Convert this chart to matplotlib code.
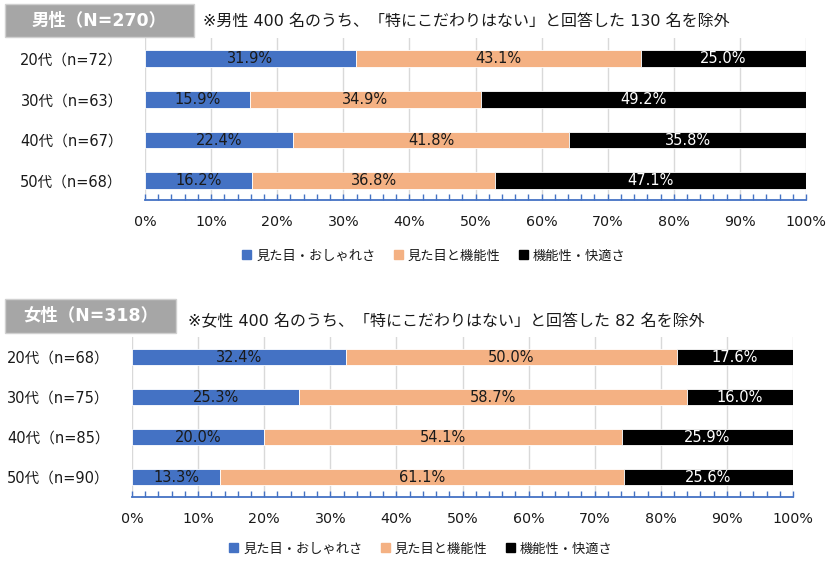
import matplotlib
matplotlib.use("Agg")
import matplotlib.pyplot as plt
from matplotlib.patches import Patch, Rectangle
from matplotlib.ticker import MultipleLocator, FuncFormatter

plt.rcParams['font.family'] = ['DejaVu Sans', 'Noto Sans CJK JP']

series_names = ["見た目・おしゃれさ", "見た目と機能性", "機能性・快適さ"]
colors = ["#4472C4", "#F4B183", "#000000"]
text_colors = ["#1a1a1a", "#1a1a1a", "#ffffff"]

male_categories = ["20代（n=72）", "30代（n=63）", "40代（n=67）", "50代（n=68）"]
male_look = [31.9, 15.9, 22.4, 16.2]
male_both = [43.1, 34.9, 41.8, 36.8]
male_func = [25.0, 49.2, 35.8, 47.1]

female_categories = ["20代（n=68）", "30代（n=75）", "40代（n=85）", "50代（n=90）"]
female_look = [32.4, 25.3, 20.0, 13.3]
female_both = [50.0, 58.7, 54.1, 61.1]
female_func = [17.6, 16.0, 25.9, 25.6]

male_header = "男性（N=270）"
male_note = "※男性 400 名のうち、「特にこだわりはない」と回答した 130 名を除外"
female_header = "女性（N=318）"
female_note = "※女性 400 名のうち、「特にこだわりはない」と回答した 82 名を除外"

W, H = 831, 562
fig = plt.figure(figsize=(W / 100, H / 100), dpi=100)
fig.patch.set_facecolor("white")


def px(x, y):
    return x / W, 1 - y / H


def draw_panel(left_px, top_px, bottom_px, cats, vals, ylim, header, hbox, note, note_xy, legend_xy):
    x0, y1 = px(left_px, top_px)
    _, y0 = px(left_px, bottom_px)
    ax = fig.add_axes([x0, y0, 661 / W, y1 - y0])
    ypos = list(range(len(cats)))
    lefts = [0.0] * len(cats)
    for si, sv in enumerate(vals):
        ax.barh(ypos, sv, left=lefts, height=0.41, color=colors[si],
                edgecolor="white", linewidth=0.6, zorder=3)
        for i, v in enumerate(sv):
            ax.text(lefts[i] + v / 2, ypos[i], f"{v:.1f}%", ha="center", va="center",
                    fontsize=10.5, color=text_colors[si], zorder=4)
        lefts = [l + v for l, v in zip(lefts, sv)]
    ax.set_xlim(0, 100)
    ax.set_ylim(*ylim)
    ax.set_yticks(ypos)
    ax.set_yticklabels(cats, fontsize=10.5, color="#1a1a1a")
    ax.tick_params(axis="y", length=0, pad=16)
    ax.xaxis.set_major_locator(MultipleLocator(10))
    ax.xaxis.set_minor_locator(MultipleLocator(2))
    ax.xaxis.set_major_formatter(FuncFormatter(lambda v, p: f"{int(v)}%"))
    ax.tick_params(axis="x", which="both", direction="in", length=4, width=1,
                   color="#4472C4", labelsize=10.3, labelcolor="#1a1a1a", pad=11)
    ax.grid(axis="x", which="major", color="#D9D9D9", linewidth=1, zorder=0)
    for s in ["top", "right", "left"]:
        ax.spines[s].set_visible(False)
    ax.spines["bottom"].set_color("#4472C4")
    ax.spines["bottom"].set_linewidth(1.3)
    ax.set_facecolor("white")

    # header box
    bx0, by0, bx1, by1 = hbox
    fx0, fy1 = px(bx0, by0)
    fx1, fy0 = px(bx1, by1)
    fig.patches.append(Rectangle((fx0, fy0), fx1 - fx0, fy1 - fy0, transform=fig.transFigure,
                                 facecolor="#A6A6A6", edgecolor="#D0D0D0", linewidth=1))
    fig.text((fx0 + fx1) / 2, (fy0 + fy1) / 2, header, ha="center", va="center",
             fontsize=12.5, fontweight="bold", color="white")
    nx, ny = px(*note_xy)
    fig.text(nx, ny, note, ha="left", va="center", fontsize=11.5, color="#1a1a1a")

    handles = [Patch(facecolor=c, edgecolor=c) for c in colors]
    lx, ly = px(*legend_xy)
    fig.legend(handles, series_names, loc="center", bbox_to_anchor=(lx, ly), ncol=3,
               frameon=False, fontsize=9.5, handlelength=0.65, handleheight=0.65,
               handletextpad=0.4, columnspacing=1.4, labelcolor="#1a1a1a")
    return ax


draw_panel(145, 38, 200, male_categories, [male_look, male_both, male_func],
           (3.47, -0.5), male_header, (5, 4, 194, 37), male_note, (203, 21), (434, 256))
draw_panel(132, 337, 497, female_categories, [female_look, female_both, female_func],
           (3.5, -0.5), female_header, (5, 299, 176, 333), female_note, (188, 322), (421, 549))

fig.savefig("out.png", dpi=100, facecolor="white")
